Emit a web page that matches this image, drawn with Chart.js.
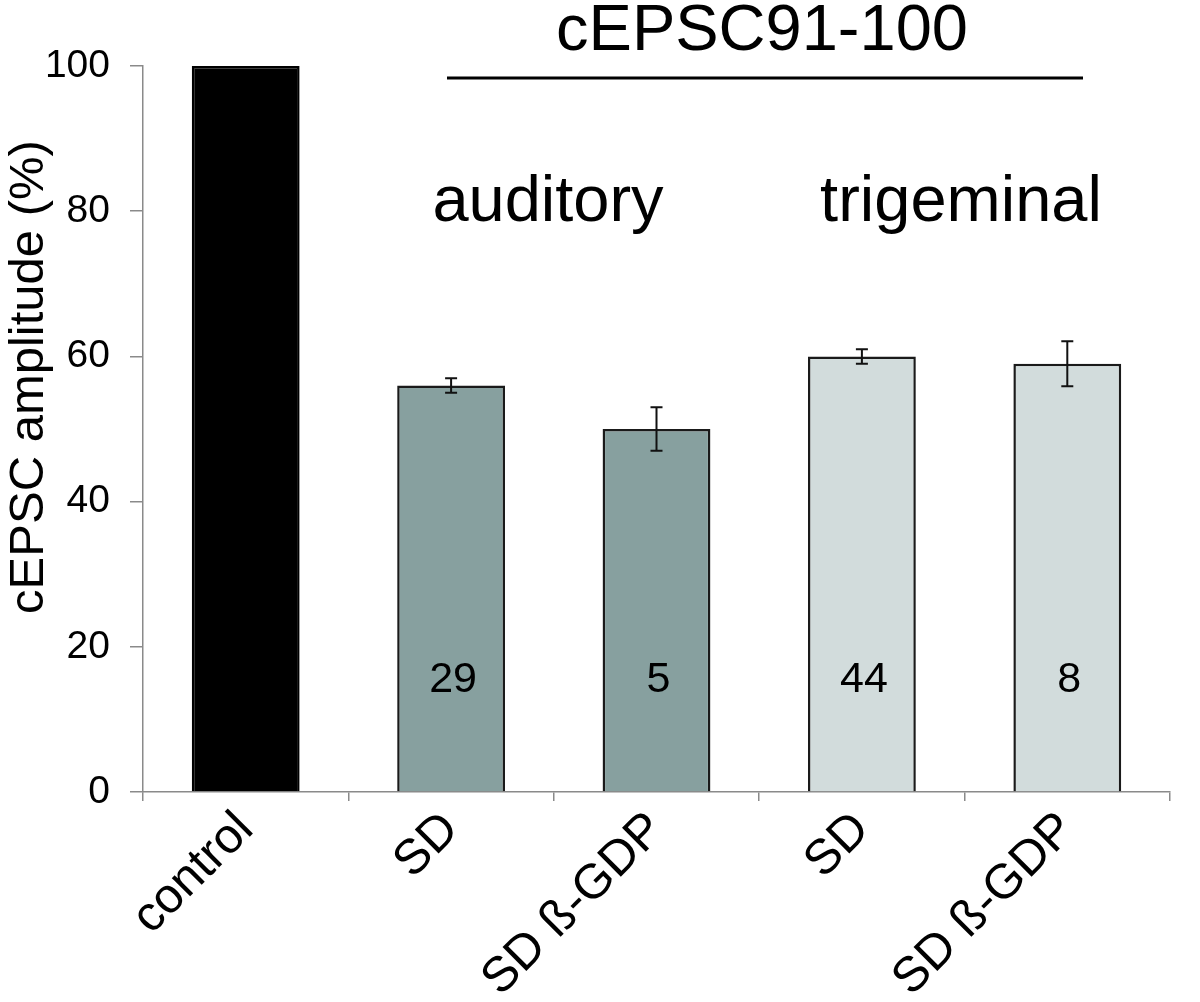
<!DOCTYPE html>
<html>
<head>
<meta charset="utf-8">
<script src="https://cdn.jsdelivr.net/npm/chart.js@4"></script>
<style>
  body { margin: 0; background: #fff; }
  canvas { display: block; }
</style>
</head>
<body>
<canvas id="myChart" width="1200" height="1002"></canvas>
<script>
// data
const labels = ['control', 'SD', 'SD \u00df-GDP', 'SD', 'SD \u00df-GDP'];
const amplitude = [100, 56, 50, 60, 59];
const errors = [0, 1, 3, 1, 3.1];
const nCells = ['', '29', '5', '44', '8'];
const yTicks = [0, 20, 40, 60, 80, 100];

const fillColors = ['#000000', '#87a09f', '#87a09f', '#d2dcdc', '#d2dcdc'];
const edgeColors = ['#000000', '#1a1a1a', '#1a1a1a', '#1a1a1a', '#1a1a1a'];

const FONT = "'Liberation Sans', Arial, sans-serif";

// error bars
const errorBars = {
  id: 'errorBars',
  afterDatasetsDraw(chart) {
    const ctx = chart.ctx;
    const meta = chart.getDatasetMeta(0);
    const y = chart.scales.y;
    ctx.save();
    ctx.strokeStyle = '#111';
    ctx.lineWidth = 2;
    meta.data.forEach((bar, i) => {
      if (!errors[i]) return;
      const x = bar.x;
      const top = y.getPixelForValue(amplitude[i] + errors[i]);
      const bot = y.getPixelForValue(amplitude[i] - errors[i]);
      ctx.beginPath();
      ctx.moveTo(x, top); ctx.lineTo(x, bot);
      ctx.moveTo(x - 6, top); ctx.lineTo(x + 6, top);
      ctx.moveTo(x - 6, bot); ctx.lineTo(x + 6, bot);
      ctx.stroke();
    });
    ctx.restore();
  }
};

// n numbers inside bars, group labels, title and y-axis title
const annotations = {
  id: 'annotations',
  afterDraw(chart) {
    const ctx = chart.ctx;
    const meta = chart.getDatasetMeta(0);
    const y = chart.scales.y;
    ctx.save();
    ctx.fillStyle = '#000';
    ctx.textAlign = 'center';
    ctx.textBaseline = 'middle';
    ctx.font = '43px ' + FONT;
    meta.data.forEach((bar, i) => {
      if (nCells[i]) ctx.fillText(nCells[i], bar.x + 2, y.getPixelForValue(15.4));
    });

    ctx.textBaseline = 'alphabetic';
    ctx.font = '65px ' + FONT;
    ctx.fillText('auditory', 548, 221);
    ctx.fillText('trigeminal', 961, 221);
    ctx.fillText('cEPSC91-100', 762, 50);

    ctx.strokeStyle = '#000';
    ctx.lineWidth = 3;
    ctx.beginPath();
    ctx.moveTo(447, 78);
    ctx.lineTo(1083, 78);
    ctx.stroke();

    ctx.translate(29, 377);
    ctx.rotate(-Math.PI / 2);
    ctx.textBaseline = 'middle';
    ctx.font = '49px ' + FONT;
    ctx.fillText('cEPSC amplitude (%)', 0, 0);
    ctx.restore();
  }
};

const data = {
  labels: labels,
  datasets: [{
    label: 'cEPSC amplitude',
    data: amplitude,
    backgroundColor: fillColors,
    borderColor: edgeColors,
    borderWidth: 2.5,
    barPercentage: 0.525,
    categoryPercentage: 1
  }]
};

const config = {
  type: 'bar',
  data: data,
  options: {
    responsive: false,
    animation: false,
    layout: { padding: { top: 66, right: 30, left: 0, bottom: 0 } },
    plugins: {
      legend: { display: false },
      tooltip: { enabled: false }
    },
    scales: {
      x: {
        afterFit(scale) { scale.height = 210; },
        border: { color: '#8a8a8a', width: 1.5 },
        grid: { display: true, drawOnChartArea: false, offset: true, tickLength: 9, color: '#8a8a8a', lineWidth: 1.5 },
        ticks: {
          color: '#000',
          font: { family: FONT, size: 49 },
          minRotation: 45,
          maxRotation: 45,
          padding: 0,
          autoSkip: false
        }
      },
      y: {
        min: 0,
        max: 100,
        afterFit(scale) { scale.width = 143; },
        afterBuildTicks(scale) { scale.ticks = yTicks.map(v => ({ value: v })); },
        border: { color: '#8a8a8a', width: 1.5 },
        grid: { display: true, drawOnChartArea: false, tickLength: 13, color: '#8a8a8a', lineWidth: 1.5 },
        ticks: {
          color: '#000',
          font: { family: FONT, size: 39 },
          padding: 20
        }
      }
    }
  },
  plugins: [errorBars, annotations]
};

const myChart = new Chart(document.getElementById('myChart'), config);
</script>
</body>
</html>
